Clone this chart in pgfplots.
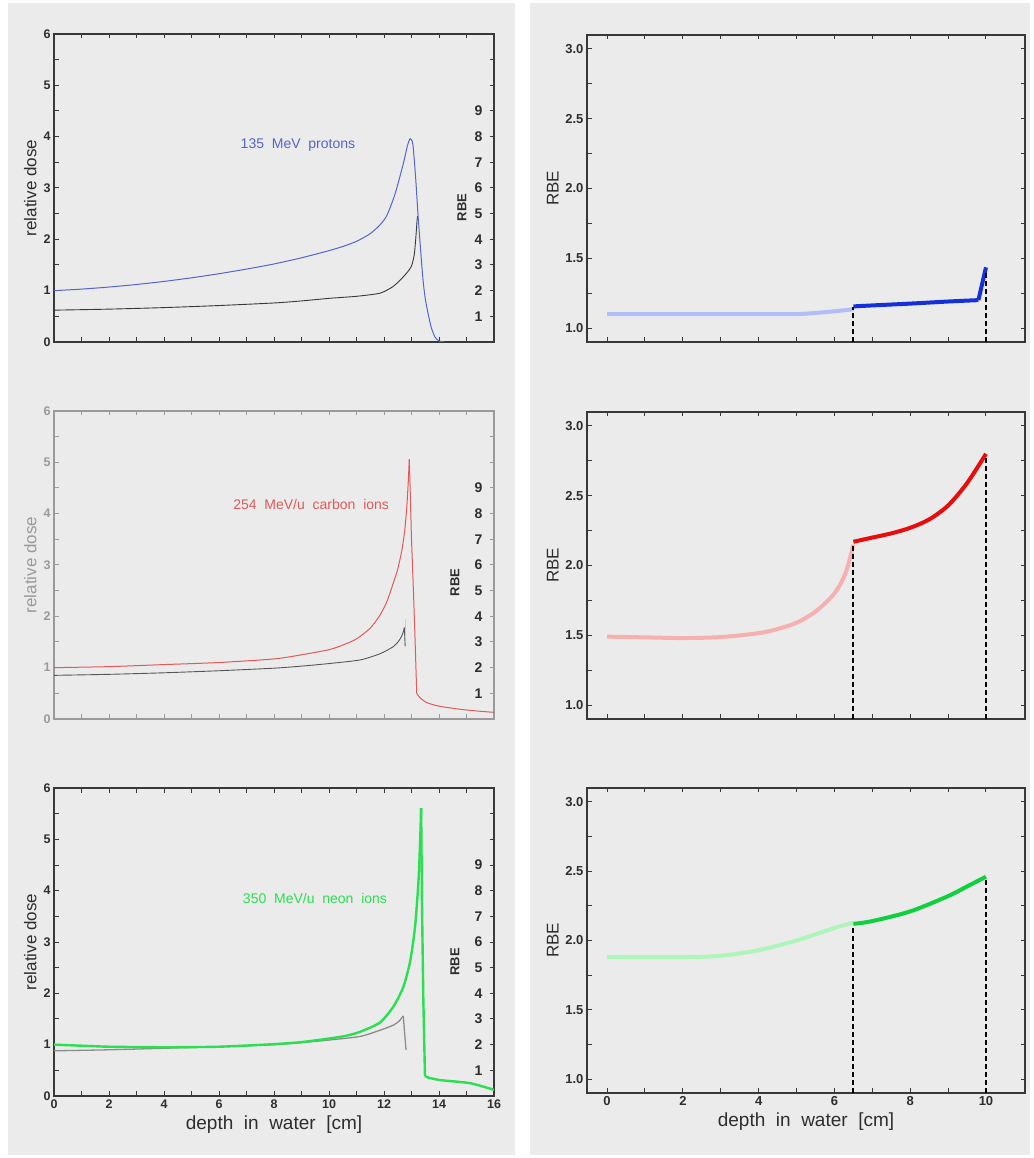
\documentclass[border=0pt]{standalone}
\usepackage{fontspec}
\setmainfont{Liberation Sans}
\usepackage{pgfplots}
\pgfplotsset{compat=1.18}

\definecolor{panel}{HTML}{EBEBEB}
\definecolor{framec}{HTML}{383838}
\definecolor{labc}{HTML}{2E2E2E}
\definecolor{lightfr}{HTML}{9A9A9A}
\definecolor{protc}{HTML}{5565CC}
\definecolor{carbc}{HTML}{E05A5A}
\definecolor{neonc}{HTML}{28E050}
\definecolor{blueL}{HTML}{B3BDF7}
\definecolor{blueD}{HTML}{1530D8}
\definecolor{redL}{HTML}{F7B0B0}
\definecolor{redD}{HTML}{E80C0C}
\definecolor{greenL}{HTML}{AEF5B9}
\definecolor{greenD}{HTML}{10D040}

\tikzset{
  rbenote/.style={rotate=90, text=labc, font=\fontsize{13}{14}\selectfont\bfseries},
  beam/.style={font=\fontsize{14}{15}\selectfont},
}

\pgfplotsset{
  /pgf/number format/assume math mode=true,
  base/.style={
    scale only axis, anchor=south west, clip=true,
    axis line style={draw=framec, line width=1.3pt},
    tick align=inside, major tick length=4.5pt, minor tick length=4.5pt,
    every tick/.style={draw=framec, line width=1pt},
    tick label style={font=\fontsize{12.5}{13}\selectfont\bfseries, text=labc},
    label style={font=\fontsize{17}{19}\selectfont, text=labc},
    xlabel style={font=\fontsize{19}{21}\selectfont},
  },
  dose/.style={base, width=440pt, height=308pt,
    xmin=0, xmax=16, ymin=0, ymax=6,
    xtick={0,2,...,16}, minor xtick={1,3,...,15},
    ytick={0,...,6}, minor ytick={0.5,1.5,...,5.5},
    ylabel={relative dose}},
  rbe/.style={base, width=438pt, height=307pt,
    xmin=-0.53, xmax=11.03, ymin=0.9, ymax=3.1,
    xtick={0,2,...,10}, minor xtick={1,3,...,9},
    ytick={1,1.5,...,3}, minor ytick={1.25,1.75,...,2.75},
    tick label style={font=\fontsize{13}{14}\selectfont\bfseries, text=labc},
    yticklabel style={/pgf/number format/.cd, fixed, fixed zerofill, precision=1},
    ylabel={RBE}},
  rbelab/.style={scale only axis, anchor=south west, width=440pt, height=308pt,
    xmin=0, xmax=16, ymin=0, ymax=12,
    hide x axis, axis y line*=right, y axis line style={draw=none},
    ytick={1,...,9}, major tick length=0pt,
    yticklabel style={anchor=east, xshift=-8pt,
      font=\fontsize{14}{15}\selectfont\bfseries, text=labc}},
  light/.style={line width=4pt, line join=round, smooth, tension=0.5},
  dark/.style={line width=4pt, line join=round, smooth, tension=0.5},
  vdash/.style={black, line width=1.8pt, dash pattern=on 5pt off 3pt},
}

\begin{document}
\begin{tikzpicture}
\fill[white] (0,0) rectangle (1033pt,1158pt);
\fill[panel] (8pt,3pt) rectangle (515pt,1155pt);
\fill[panel] (530pt,3pt) rectangle (1030pt,1155pt);

% ---------- left column: depth dose ----------
\begin{axis}[dose, at={(54pt,816pt)}, xticklabels={}]
\addplot[framec, line width=0.9pt, smooth, tension=0.4] coordinates {
 (0,0.62) (2,0.64) (4,0.67) (6,0.71) (8,0.76) (9,0.80) (10,0.85) (11,0.89)
 (11.85,0.95) (12.3,1.07) (12.58,1.2) (12.85,1.36) (13.0,1.48) (13.1,1.7)
 (13.16,2.05) (13.2,2.35) (13.22,2.45)};
\addplot[protc, line width=1pt, smooth, tension=0.4] coordinates {
 (0,1.00) (1,1.03) (2,1.07) (3,1.12) (4,1.18) (5,1.25) (6,1.33) (7,1.42)
 (8,1.52) (9,1.64) (10,1.78) (10.5,1.86) (11,1.96) (11.5,2.11) (11.85,2.28)
 (12.1,2.46) (12.4,2.88) (12.7,3.47) (12.85,3.82) (12.95,3.96) (13.05,3.85)
 (13.15,3.2) (13.24,2.45) (13.33,1.8) (13.42,1.2) (13.5,0.85) (13.6,0.56)
 (13.72,0.28) (13.85,0.1) (14.0,0.02) (14.2,0)};
\node[text=protc, beam] at (axis cs:8.87,3.84) {135\ \ MeV\ \ protons};
\node[rbenote] at (rel axis cs:0.927,0.437) {RBE};
\end{axis}
\begin{axis}[rbelab, at={(54pt,816pt)}]
\end{axis}

\begin{axis}[dose, at={(54pt,439pt)}, xticklabels={},
  axis line style={draw=lightfr, line width=1.3pt},
  every tick/.style={draw=lightfr, line width=1pt},
  tick label style={text=lightfr}, label style={text=lightfr}]
\addplot[framec!85, line width=0.9pt, smooth, tension=0.4] coordinates {
 (0,0.85) (2,0.87) (4,0.9) (6,0.94) (8,0.99) (9,1.03) (10,1.08) (11.13,1.15)
 (11.85,1.27) (12.34,1.41) (12.55,1.53) (12.68,1.66) (12.74,1.78)};
\addplot[framec!85, line width=0.9pt] coordinates {(12.74,1.78) (12.77,1.42)};
\addplot[framec!30, line width=0.6pt] coordinates {(12.77,1.6) (12.79,1.95)};
\addplot[carbc, line width=1pt, smooth, tension=0.4] coordinates {
 (0,1.0) (2,1.02) (4,1.06) (6,1.1) (8,1.17) (9,1.25) (10,1.35) (10.5,1.44)
 (11,1.56) (11.5,1.77) (11.85,2.02) (12.1,2.28) (12.34,2.65) (12.5,2.92)
 (12.64,3.26) (12.75,3.65) (12.83,4.14) (12.88,4.6) (12.92,5.06)};
\addplot[carbc, line width=1pt] coordinates {
 (12.92,5.06) (12.96,4.3) (13.0,3.5) (13.07,2.5) (13.13,1.54) (13.19,0.5)};
\addplot[carbc, line width=1pt, smooth, tension=0.4] coordinates {
 (13.19,0.5) (13.3,0.42) (13.55,0.32) (14,0.25) (14.76,0.19) (15.5,0.15) (16,0.13)};
\node[text=carbc, beam] at (axis cs:9.35,4.18) {254\ \ MeV/u\ \ carbon\ \ ions};
\node[rbenote] at (rel axis cs:0.911,0.443) {RBE};
\end{axis}
\begin{axis}[rbelab, at={(54pt,439pt)}]
\end{axis}

\begin{axis}[dose, at={(54pt,62pt)}, xlabel={depth\ \ in\ \ water\ \ [cm]}]
\addplot[gray!90, line width=1.3pt, smooth, tension=0.4] coordinates {
 (0,0.88) (2,0.9) (4,0.93) (6,0.96) (8,1.0) (9,1.04) (10,1.09) (11.13,1.16)
 (11.85,1.28) (12.34,1.38) (12.55,1.46) (12.7,1.56)};
\addplot[gray!90, line width=1.3pt] coordinates {(12.7,1.56) (12.8,0.9)};
\addplot[neonc, line width=2.4pt, line join=round, smooth, tension=0.4] coordinates {
 (0,1.0) (1,0.98) (2,0.96) (4,0.95) (6,0.96) (8,1.01) (9,1.05) (10,1.12)
 (10.6,1.17) (11.13,1.25) (11.85,1.43) (12.34,1.74) (12.7,2.12) (12.95,2.62)
 (13.13,3.3) (13.25,4.15) (13.31,4.9) (13.35,5.61)};
\addplot[neonc, line width=2.4pt, line join=round] coordinates {
 (13.35,5.61) (13.38,3.8) (13.43,1.87) (13.49,0.39)};
\addplot[neonc, line width=2.4pt, line join=round, smooth, tension=0.4] coordinates {
 (13.49,0.39) (13.6,0.36) (14.04,0.31) (15.13,0.25) (16,0.12)};
\node[text=neonc, beam] at (axis cs:9.49,3.84) {350\ \ MeV/u\ \ neon\ \ ions};
\node[rbenote] at (rel axis cs:0.911,0.435) {RBE};
\end{axis}
\begin{axis}[rbelab, at={(54pt,62pt)}]
\end{axis}

% ---------- right column: RBE ----------
\begin{axis}[rbe, at={(587pt,816pt)}, xticklabels={}]
\addplot[blueL, light] coordinates {
 (0,1.10) (1,1.10) (2,1.10) (3,1.10) (4,1.10) (5,1.10) (5.5,1.108) (6,1.12) (6.5,1.135)};
\addplot[blueD, dark] coordinates {
 (6.5,1.155) (7,1.162) (8,1.175) (9,1.19) (9.8,1.20)};
\addplot[blueD, line width=4pt, line join=round] coordinates {(9.8,1.20) (10,1.435)};
\addplot[vdash] coordinates {(6.5,0.9) (6.5,1.15)};
\addplot[vdash] coordinates {(10,0.9) (10,1.40)};
\end{axis}

\begin{axis}[rbe, at={(587pt,439pt)}, xticklabels={}]
\addplot[redL, light] coordinates {
 (0,1.49) (1,1.485) (2,1.48) (3,1.487) (4,1.515) (4.5,1.545) (5,1.59)
 (5.5,1.67) (6,1.80) (6.3,1.95) (6.5,2.15)};
\addplot[redD, dark] coordinates {
 (6.5,2.17) (7,2.2) (7.5,2.23) (8,2.27) (8.5,2.33) (9,2.43) (9.5,2.59) (10,2.80)};
\addplot[vdash] coordinates {(6.5,0.9) (6.5,2.16)};
\addplot[vdash] coordinates {(10,0.9) (10,2.78)};
\end{axis}

\begin{axis}[rbe, at={(587pt,65pt)}, height=305pt, xlabel={depth\ \ in\ \ water\ \ [cm]}]
\addplot[greenL, light] coordinates {
 (0,1.88) (1,1.88) (2,1.88) (3,1.89) (4,1.93) (5,2.0) (6,2.09) (6.5,2.13)};
\addplot[greenD, dark] coordinates {
 (6.5,2.12) (7,2.14) (8,2.21) (9,2.32) (9.5,2.39) (10,2.46)};
\addplot[vdash] coordinates {(6.5,0.9) (6.5,2.11)};
\addplot[vdash] coordinates {(10,0.9) (10,2.45)};
\end{axis}
\end{tikzpicture}
\end{document}
